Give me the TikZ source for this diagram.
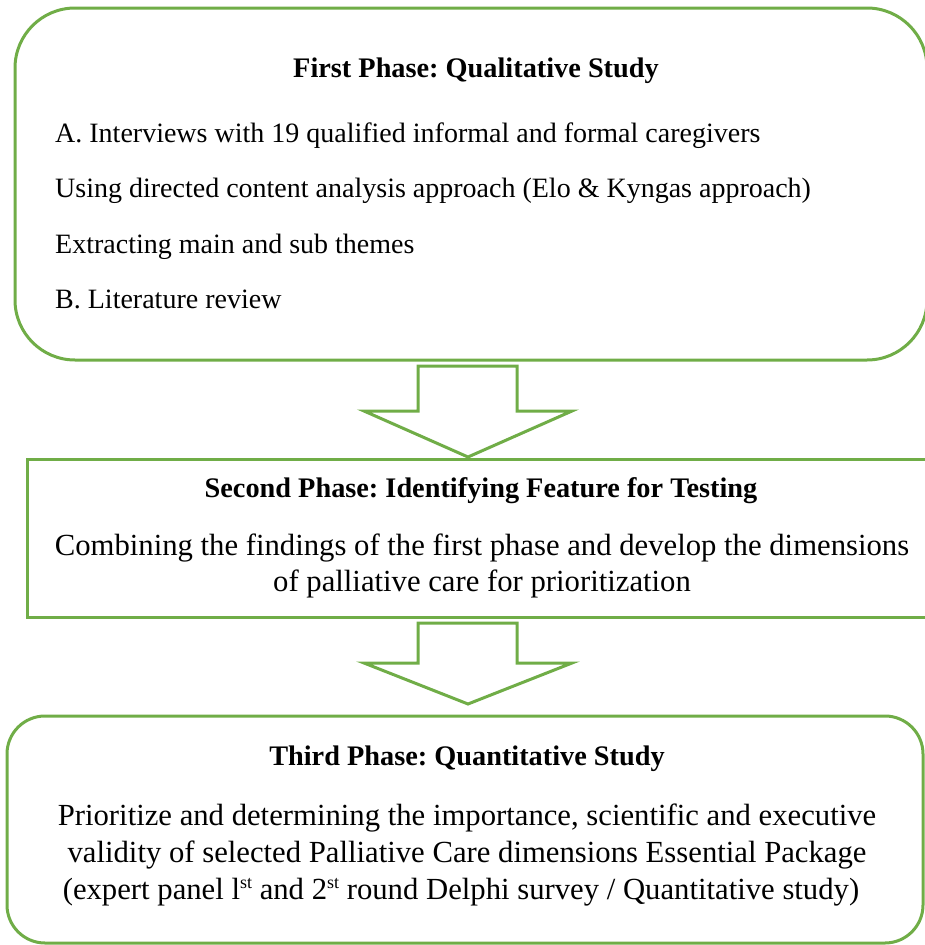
\documentclass[tikz,border=0pt]{standalone}
\usepackage{fontspec}
\setmainfont{Liberation Serif}
\usetikzlibrary{calc}
\definecolor{pgreen}{HTML}{70AD47}
\newcommand{\supst}{\raisebox{11pt}{\fontsize{18}{18}\selectfont st}}
\tikzset{
  phasebox/.style={draw=pgreen, line width=3pt, inner sep=0pt, outer sep=0pt},
  blockarrow/.style={draw=pgreen, line width=3pt, fill=white, line join=miter},
  titletext/.style={font=\fontsize{28.3}{32}\selectfont\bfseries, anchor=base, inner sep=0pt},
  bodyone/.style={font=\fontsize{28}{32}\selectfont, anchor=base west, inner sep=0pt},
  bodybig/.style={font=\fontsize{30.7}{37}\selectfont, anchor=base, inner sep=0pt, align=center},
}
\begin{document}
\frenchspacing
\begin{tikzpicture}[x=1pt,y=-1pt]
\useasboundingbox (0,0) rectangle (925,945);
% boxes
\node[phasebox, rounded corners=60pt, minimum width=912pt, minimum height=352pt] (b1) at (471,184) {};
\node[phasebox, minimum width=903pt, minimum height=158pt] (b2) at (478.5,538) {};
\node[phasebox, rounded corners=38pt, minimum width=916pt, minimum height=227pt] (b3) at (465,829.5) {};
% arrows
\draw[blockarrow] ($(b1.south)+(-53,6)$) coordinate (a1)
  -- ++(99,0) -- ++(0,45) -- ++(55,0) -- ($(b2.north)+(-10.5,-2)$) coordinate (t1)
  -- ($(b1.south)+(-107,51)$) -- ++(54,0) -- cycle;
\draw[blockarrow] ($(b2.south)+(-60.5,6)$) coordinate (a2)
  -- ++(99,0) -- ++(0,40) -- ++(55,0) -- ($(b3.north)+(3,-12)$) coordinate (t2)
  -- ($(b2.south)+(-114.5,46)$) -- ++(54,0) -- cycle;
% texts box 1
\node[titletext] (t1title) at (476,77) {First Phase: Qualitative Study};
\node[bodyone] (l1) at (55,142) {A. Interviews with 19 qualified informal and formal caregivers};
\node[bodyone] (l2) at (55,197) {Using directed content analysis approach (Elo \& Kyngas approach)};
\node[bodyone] (l3) at (55,253) {Extracting main and sub themes};
\node[bodyone] (l4) at (55,308) {B. Literature review};
% texts box 2
\node[titletext] (t2title) at (481,497) {Second Phase: Identifying Feature for Testing};
\node[bodybig] (m1) at (482,555) {Combining the findings of the first phase and develop the dimensions};
\node[bodybig] (m2) at (482,591) {of palliative care for prioritization};
% texts box 3
\node[titletext] (t3title) at (467,765) {Third Phase: Quantitative Study};
\node[bodybig] (p1) at (467,825) {Prioritize and determining the importance, scientific and executive};
\node[bodybig] (p2) at (467,862) {validity of selected Palliative Care dimensions Essential Package};
\node[bodybig] (p3) at (461,899) {(expert panel l\supst{} and 2\supst{} round Delphi survey / Quantitative study)};
\end{tikzpicture}
\end{document}
